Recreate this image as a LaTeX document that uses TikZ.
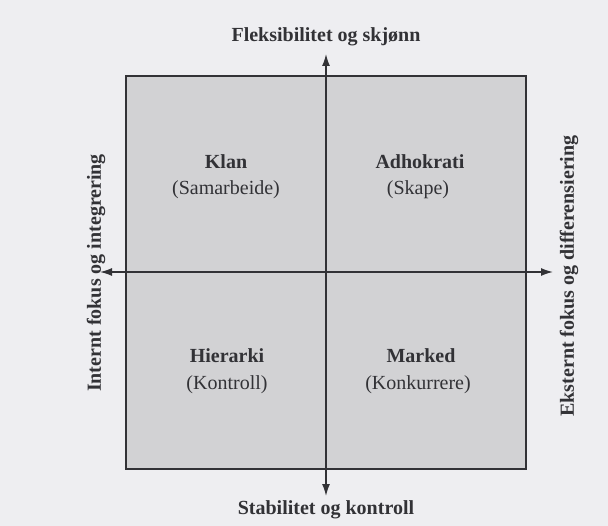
\documentclass[tikz,border=0pt]{standalone}
\usepackage{fontspec}
\setmainfont{Liberation Serif}
\usetikzlibrary{arrows.meta}
\definecolor{paper}{RGB}{238,238,241}
\definecolor{panel}{RGB}{210,210,212}
\definecolor{ink}{RGB}{50,50,54}
\begin{document}
\begin{tikzpicture}[x=1pt,y=-1pt,
  axis/.style={draw=ink,line width=1.4pt,-{Latex[length=12pt,width=8pt]}},
  title/.style={font=\fontsize{20}{24}\selectfont\bfseries,text=ink},
  sub/.style={font=\fontsize{20}{24}\selectfont,text=ink},
  side/.style={font=\fontsize{20}{24}\selectfont\bfseries,text=ink}]
  % page background and bounding box
  \fill[paper] (0,0) rectangle (608,526);
  \useasboundingbox (0,0) rectangle (608,526);
  % shaded square
  \draw[draw=ink,line width=1.1pt,fill=panel] (126,76) rectangle (526,469);
  % axis origin and end points
  \coordinate (o) at (326,272);
  \coordinate (top) at (326,54);
  \coordinate (bot) at (326,496);
  \coordinate (lft) at (100,272);
  \coordinate (rgt) at (553,272);
  \draw[axis] (o) -- (top);
  \draw[axis] (o) -- (bot);
  \draw[axis] (o) -- (lft);
  \draw[axis] (o) -- (rgt);
  % axis labels
  \node[side] (ntop) at (326,37) {Fleksibilitet og skjønn};
  \node[side] (nbot) at (326,510) {Stabilitet og kontroll};
  \node[side,rotate=90] (nlft) at (96,273) {Internt fokus og integrering};
  \node[side,rotate=90] (nrgt) at (569,276) {Eksternt fokus og differensiering};
  % quadrant labels
  \node[title] (klan) at (226,162) {Klan};
  \node[sub] (klans) at (226,190) {(Samarbeide)};
  \node[title] (adh) at (420,162) {Adhokrati};
  \node[sub] (adhs) at (418,190) {(Skape)};
  \node[title] (hier) at (227,356) {Hierarki};
  \node[sub] (hiers) at (227,385) {(Kontroll)};
  \node[title] (mark) at (421,356) {Marked};
  \node[sub] (marks) at (418,385) {(Konkurrere)};
\end{tikzpicture}
\end{document}
